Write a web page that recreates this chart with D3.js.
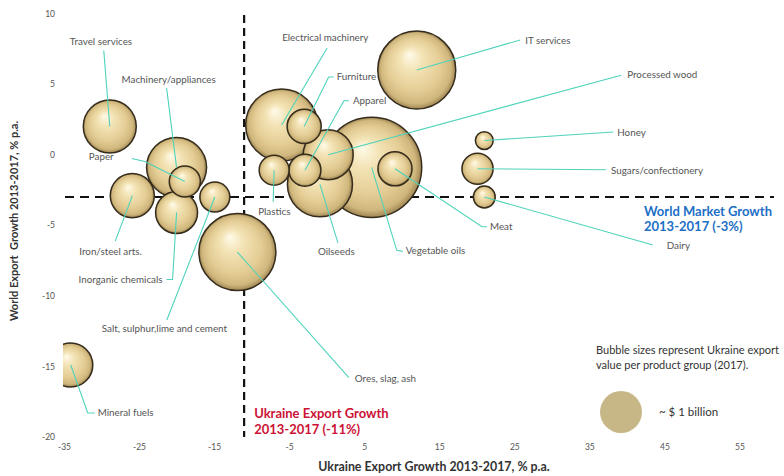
<!DOCTYPE html>
<html>
<head>
<meta charset="utf-8">
<script src="https://cdn.jsdelivr.net/npm/d3@7/dist/d3.min.js"></script>
<style>
  html, body { margin: 0; padding: 0; background: #fff; }
  svg { display: block; font-family: Lato, "Open Sans", sans-serif; }
</style>
</head>
<body>
<svg id="chart" width="784" height="476"></svg>
<script>
// Product groups: Ukraine export growth vs world export growth, 2013-2017 (% p.a.)
const products = [
  "Travel services", "Machinery/appliances", "Paper", "Iron/steel arts.",
  "Inorganic chemicals", "Salt, sulphur,lime and cement", "Ores, slag, ash",
  "Mineral fuels", "Plastics", "Electrical machinery", "Furniture",
  "Processed wood", "Apparel", "Oilseeds", "Vegetable oils", "Meat",
  "IT services", "Honey", "Sugars/confectionery", "Dairy"
];
const ukraineGrowth = [-28.9, -20.0, -18.9, -25.9, -20.0, -14.9, -11.9, -34.1, -7.0, -6.0, -3.0, 0.2, -2.9, -0.9, 6.0, 9.1, 12.0, 21.0, 20.1, 21.0];
const worldGrowth   = [2.0, -0.9, -1.9, -2.9, -4.1, -3.0, -6.9, -14.9, -1.1, 2.1, 2.0, 0.0, -1.1, -2.1, -0.9, -1.0, 6.0, 1.0, -1.0, -3.0];
// Ukraine export value per product group in 2017, US$ billion
const exportValue   = [1.59, 2.04, 0.55, 1.10, 1.00, 0.51, 3.36, 1.10, 0.51, 2.94, 0.66, 1.42, 0.58, 2.40, 5.67, 0.66, 3.45, 0.18, 0.55, 0.27];

const xTicks = [-35, -25, -15, -5, 5, 15, 25, 35, 45, 55];
const yTicks = [-20, -15, -10, -5, 0, 5, 10];
const ukraineAverage = -11;   // Ukraine export growth 2013-2017
const worldAverage = -3;      // World market growth 2013-2017
const legendValue = 1;        // US$ billion

// Annotation placement relative to each bubble centre (px):
// text = label origin, lead = leader line start (and optional bend)
const annotations = [
  { text: [-40, -81],   lead: [[-6, -76]] },
  { text: [-55, -84.5], lead: [[-10, -79.5]] },
  { text: [-96, -21],   lead: [[-53, -23], [-40, -20]] },
  { text: [-53, 59.5],  lead: [[-17, 45.5]] },
  { text: [-98, 70],    lead: [[-10, 67], [-4, 67]] },
  { text: [-113, 135],  lead: [[-48, 123]] },
  { text: [117.5, 129.5], lead: [[111.5, 125.5]] },
  { text: [27, 51],     lead: [[24, 48], [17, 48]] },
  { text: [-16, 44.5],  lead: [[-1, 31.5]] },
  { text: [0.5, -84],   lead: [[45.5, -77]] },
  { text: [32.5, -46.5], lead: [[29.5, -49.5], [24.5, -49.5]] },
  { text: [299, -76.5], lead: [[293, -79.5]] },
  { text: [48, -66.5],  lead: [[44, -69.5], [39, -69.5]] },
  { text: [-2, 70.5],   lead: [[18, 58.5]] },
  { text: [34, 87],     lead: [[31, 84], [25, 83]] },
  { text: [95, 61],     lead: [[92, 58], [87, 58]] },
  { text: [108.5, -26], lead: [[103.5, -30]] },
  { text: [133, -4.5],  lead: [[129, -8.5]] },
  { text: [133.5, 5],   lead: [[128.5, 1]] },
  { text: [182.5, 52],  lead: [[168.5, 48]] }
];

const svg = d3.select("#chart");

const x = d3.scaleLinear().domain([-35, 60]).range([64, 777]);
const y = d3.scaleLinear().domain([-20, 10]).range([437, 13.5]);
const r = d3.scaleSqrt().domain([0, 1]).range([0, 21]);

const defs = svg.append("defs");
const grad = defs.append("radialGradient")
  .attr("id", "ball").attr("cx", "50%").attr("cy", "50%").attr("r", "50%")
  .attr("fx", "40%").attr("fy", "30%");
[["0%", "#fffbea"], ["30%", "#f3e3b5"], ["68%", "#e4cd95"], ["90%", "#cfb67c"], ["100%", "#9f8553"]]
  .forEach(([o, c]) => grad.append("stop").attr("offset", o).attr("stop-color", c));

defs.append("clipPath").attr("id", "plotClip")
  .append("rect").attr("x", 63).attr("y", 0).attr("width", 721).attr("height", 476);

// Axes (labels only)
const xAxis = svg.append("g").attr("transform", `translate(0,${y(-20)})`)
  .call(d3.axisBottom(x).tickValues(xTicks).tickSize(0).tickPadding(7).tickFormat(d => String(d)));
const yAxis = svg.append("g").attr("transform", `translate(${x(-35)},0)`)
  .call(d3.axisLeft(y).tickValues(yTicks).tickSize(0).tickPadding(9).tickFormat(d => String(d)));
[xAxis, yAxis].forEach(g => {
  g.select(".domain").remove();
  g.selectAll("text").attr("fill", "#555").attr("font-size", 8.5)
    .attr("font-family", "Lato, sans-serif");
});

// Average growth reference lines
svg.append("line")
  .attr("x1", x(ukraineAverage)).attr("x2", x(ukraineAverage))
  .attr("y1", y(10) + 1.5).attr("y2", y(-20))
  .attr("stroke", "#111").attr("stroke-width", 2.2).attr("stroke-dasharray", "8,5");
svg.append("line")
  .attr("x1", x(-35) + 1).attr("x2", x(59.6))
  .attr("y1", y(worldAverage)).attr("y2", y(worldAverage))
  .attr("stroke", "#111").attr("stroke-width", 2.2).attr("stroke-dasharray", "9,6");

const data = products.map((name, i) => ({
  name, ux: ukraineGrowth[i], wy: worldGrowth[i], v: exportValue[i], ann: annotations[i]
}));

// Bubbles, largest underneath
const bubbles = svg.append("g").attr("clip-path", "url(#plotClip)");
bubbles.selectAll("circle")
  .data(data.slice().sort((a, b) => b.v - a.v))
  .join("circle")
  .attr("cx", d => x(d.ux)).attr("cy", d => y(d.wy)).attr("r", d => r(d.v))
  .attr("fill", "url(#ball)").attr("stroke", "#352c1c").attr("stroke-width", 1.5);

// Leader lines
const lines = svg.append("g");
lines.selectAll("path").data(data).join("path")
  .attr("d", d => {
    const cx = x(d.ux), cy = y(d.wy);
    const pts = d.ann.lead.map(([dx, dy]) => [cx + dx, cy + dy]);
    pts.push([cx, cy]);
    return d3.line()(pts);
  })
  .attr("fill", "none").attr("stroke", "#4fd3bb").attr("stroke-width", 1.1);

// Product labels
svg.append("g").selectAll("text").data(data).join("text")
  .attr("x", d => x(d.ux) + d.ann.text[0])
  .attr("y", d => y(d.wy) + d.ann.text[1])
  .attr("font-size", 9.8).attr("fill", "#555")
  .text(d => d.name);

// Axis titles
svg.append("text")
  .attr("x", 434).attr("y", 471).attr("text-anchor", "middle")
  .attr("font-size", 12.4).attr("font-weight", "bold").attr("fill", "#333")
  .text("Ukraine Export Growth 2013-2017, % p.a.");
svg.append("text")
  .attr("transform", "translate(18,221) rotate(-90)").attr("text-anchor", "middle")
  .attr("font-size", 11).attr("font-weight", "bold").attr("fill", "#333")
  .attr("xml:space", "preserve")
  .text("World Export  Growth 2013-2017, % p.a.");

// Average growth notes
const uk = svg.append("text").attr("font-size", 13).attr("font-weight", "bold").attr("fill", "#cc1236");
uk.append("tspan").attr("x", x(ukraineAverage) + 10).attr("y", 418).text("Ukraine Export Growth");
uk.append("tspan").attr("x", x(ukraineAverage) + 10).attr("y", 434).text("2013-2017 (-11%)");
const wm = svg.append("text").attr("font-size", 13).attr("font-weight", "bold").attr("fill", "#1d6fc6");
wm.append("tspan").attr("x", 644).attr("y", 216).text("World Market Growth");
wm.append("tspan").attr("x", 644).attr("y", 231).text("2013-2017 (-3%)");

// Size legend
const lg = svg.append("text").attr("font-size", 11).attr("fill", "#333");
lg.append("tspan").attr("x", 596).attr("y", 354).text("Bubble sizes represent Ukraine export");
lg.append("tspan").attr("x", 596).attr("y", 369).text("value per product group (2017).");
svg.append("circle").attr("cx", 621).attr("cy", 412).attr("r", r(legendValue))
  .attr("fill", "#c5b37f").attr("opacity", 0.95);
svg.append("text").attr("x", 659).attr("y", 416).attr("font-size", 11.5).attr("fill", "#333")
  .text("~ $ 1 billion");
</script>
</body>
</html>
